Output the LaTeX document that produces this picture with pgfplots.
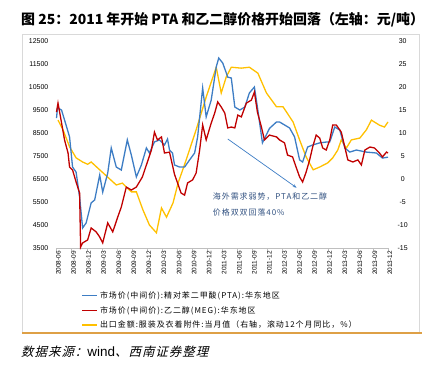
\documentclass[border=0pt]{standalone}
\usepackage{pgfplots}
\pgfplotsset{compat=1.18}
\usepackage{fontspec}
\setmainfont{Liberation Sans}
\newfontfamily\cjk{Noto Sans CJK SC}
\newfontfamily\cjkleg[LetterSpace=12]{Noto Sans CJK SC}
\newfontfamily\cjkit[FakeSlant=0.25,LetterSpace=8]{Noto Sans CJK SC}
\usetikzlibrary{arrows.meta}
\definecolor{cblue}{RGB}{61,125,196}
\definecolor{cred}{RGB}{192,0,0}
\definecolor{cyellow}{RGB}{255,192,0}
\definecolor{corange}{RGB}{222,160,70}
\definecolor{cnote}{RGB}{47,79,127}
\definecolor{caxis}{RGB}{191,191,191}
\begin{document}
\begin{tikzpicture}
\path[use as bounding box] (0bp,0bp) rectangle (432bp,365bp);
\node[font=\fontsize{14}{16}\selectfont\cjk\bfseries, anchor=west, inner sep=0pt] at (21bp,345bp) {图 25：2011 年开始 PTA 和乙二醇价格开始回落（左轴：元/吨）};
\draw[gray!30, line width=0.6bp] (22bp,32bp) rectangle (419bp,331bp);
\draw[corange, line width=1.5bp] (22bp,32bp) -- (422bp,32bp);
\node[anchor=west, inner sep=0pt] at (21bp,13bp) {{\fontsize{12.5}{14}\selectfont\cjkit 数据来源：}{\fontsize{13.5}{14}\selectfont wind}{\fontsize{12.5}{14}\selectfont\cjkit 、西南证券整理}};

\begin{axis}[
  at={(56.5bp,117bp)}, anchor=south west,
  scale only axis, width=331.5bp, height=207bp,
  xmin=0, xmax=66, ymin=-15, ymax=30,
  axis y line*=right, hide x axis,
  y axis line style={draw=none},
  ytick={-15,-10,...,30},
  major tick length=0pt,
  yticklabel style={font=\fontsize{7}{8}\selectfont, inner sep=0pt, xshift=8bp, text width=13bp, align=center},
  /pgf/number format/assume math mode=true,
  clip=false,
]
\addplot[color=cyellow, line width=1.3bp] coordinates {
(0.3,12.8) (1.3,10.7) (2.6,7.0) (3.9,4.6) (5.2,3.7) (6.2,3.2) (6.9,3.7) (8.6,2.0)
(10.2,0.4) (11.9,-1.3) (13.1,-0.9) (14.9,-2.8) (15.9,-2.8) (17.2,-6.7) (18.5,-10)
(19.9,-11.7) (20.9,-6.3) (21.9,-8.3) (23.2,-5.2) (24.2,-0.9) (25.8,4.1) (27.8,10.7)
(29.8,17.8) (31.8,24.3) (32.8,18.7) (33.8,22.2) (34.8,24.3) (36.8,24.1) (38.4,24.3)
(40.1,23) (41.8,18.7) (43.8,15.7) (45.1,15.7) (47.1,12.4) (48.4,8.5) (49.7,4.8)
(51.1,2.0) (52.4,2.6) (54.0,3.5) (55.0,4.6) (56.0,6.3) (56.7,8.5) (57.7,6.7)
(58.7,8.5) (60.4,8.9) (61.7,10.7) (62.7,12.8) (64.3,11.7) (65.3,11.3) (66,12.4)
};
\end{axis}

\begin{axis}[
  at={(56.5bp,117bp)}, anchor=south west,
  scale only axis, width=331.5bp, height=207bp,
  xmin=0, xmax=66, ymin=3500, ymax=12500,
  axis x line*=bottom, axis y line*=left,
  y axis line style={draw=none},
  x axis line style={draw=caxis},
  xtick={0,3,...,66},
  xticklabels={2008-06,2008-09,2008-12,2009-03,2009-06,2009-09,2009-12,2010-03,2010-06,2010-09,2010-12,2011-03,2011-06,2011-09,2011-12,2012-03,2012-06,2012-09,2012-12,2013-03,2013-06,2013-09,2013-12},
  xticklabel style={font=\fontsize{6.5}{7}\selectfont, rotate=90, anchor=east, inner sep=0pt, yshift=-2bp},
  tick align=outside,
  xtick pos=bottom,
  major tick length=3bp,
  x tick style={draw=caxis},
  y tick style={draw=none},
  ytick={3500,4500,...,12500},
  scaled y ticks=false,
  yticklabel style={font=\fontsize{7}{8}\selectfont, inner sep=0pt, xshift=-5bp},
  /pgf/number format/1000 sep={},
  /pgf/number format/assume math mode=true,
  legend style={draw=none, fill=none, at={(axis description cs:0.075,-0.2)}, anchor=north west,
    font=\fontsize{8}{9.5}\selectfont\cjkleg, row sep=2.5bp, inner sep=0pt},
  legend cell align=left,
  legend image code/.code={\draw[#1] (0bp,0bp) -- (15bp,0bp);},
  clip=false,
]
\addplot[color=cblue, line width=1.3bp, forget plot] coordinates {
(0,9150) (0.2,9590) (1.0,9500) (1.9,8850) (2.6,8330) (3.2,7020) (3.9,6800) (4.6,5720)
(5.2,4370) (5.9,4590) (6.9,5460) (7.6,5590) (8.6,6670) (9.2,5930) (10.2,6760) (10.9,7850)
(11.9,7020) (12.9,6890) (14.1,8200) (14.9,7540) (15.9,6590) (16.9,7110) (17.9,7850)
(18.5,7630) (19.5,8110) (20.5,8200) (21.5,7980) (22.1,8240) (22.5,7760) (23.1,7630)
(23.5,7110) (24.5,7020) (25.5,7020) (26.5,7330) (27.5,7630) (28.1,8330) (29.1,10460)
(29.8,9200) (30.8,9930) (31.8,11370) (32.3,11760) (33.1,11540) (34.1,10930) (34.8,10890)
(35.5,9630) (36.5,9500) (37.5,9630) (38.4,10240) (39.4,10500) (40.0,9630) (41.0,8070)
(42.4,8700) (43.8,8980) (44.4,8980) (45.4,8850) (46.4,8720) (47.4,8330) (48.4,7330)
(49.0,7240) (50.0,7890) (51.0,7980) (52.4,8070) (53.8,8110) (54.4,8110) (55.4,8760)
(56.4,8630) (57.4,7850) (58.4,7670) (59.7,7760) (61.7,7670) (63.7,7630) (64.9,7410) (66,7450)
};
\addplot[color=cred, line width=1.3bp, forget plot] coordinates {
(0,9410) (0.3,9800) (0.9,9070) (1.6,8200) (2.3,7630) (2.6,7020) (3.2,6890) (3.9,6370)
(4.6,5890) (4.8,3540) (5.2,3720) (6.2,3850) (6.9,4370) (7.9,4200) (8.6,3980) (9.2,3720)
(10.2,4590) (11.2,4200) (12.2,4850) (12.9,5280) (13.9,6150) (14.9,6020) (15.9,6150)
(17.1,6590) (18.1,7240) (18.9,7760) (19.5,8540) (20.1,8200) (20.9,8330) (21.5,7630)
(22.5,7670) (23.5,6700) (24.1,6330) (24.8,5890) (25.5,5800) (26.1,6330) (27.1,6460)
(27.8,6760) (28.5,7760) (29.1,8850) (29.8,8200) (30.8,8930) (31.5,9370) (32.1,9850)
(32.8,9630) (33.5,9370) (34.1,8720) (34.8,8760) (35.5,8720) (36.1,9280) (36.8,9200)
(37.8,9800) (38.8,9930) (39.4,10280) (40.0,9410) (40.8,8760) (41.4,8200) (42.4,8410)
(43.8,8330) (44.4,8200) (45.4,8070) (46.0,7540) (47.0,7460) (47.7,7020) (48.4,6590)
(49.0,6370) (49.7,6800) (50.4,7330) (51.0,7890) (51.7,8410) (52.4,8280) (53.0,7850)
(53.7,7760) (54.4,8200) (55.0,8850) (55.7,8850) (56.7,8540) (57.4,7890) (58.0,7330)
(59.0,7240) (60.0,7330) (60.7,7110) (61.4,7760) (62.4,7890) (63.3,7850) (64.3,7630)
(64.9,7460) (65.7,7670) (66,7630)
};
\addlegendimage{color=cblue, line width=1.5bp}
\addlegendentry{市场价(中间价):精对苯二甲酸(PTA):华东地区}
\addlegendimage{color=cred, line width=1.5bp}
\addlegendentry{市场价(中间价):乙二醇(MEG):华东地区}
\addlegendimage{color=cyellow, line width=1.5bp}
\addlegendentry{出口金额:服装及衣着附件:当月值（右轴，滚动12个月同比，\%）}
\draw[-{Stealth[length=4bp,width=3bp]}, color=cblue, line width=0.7bp] (axis cs:34.1,8240) -- (axis cs:47.8,6120);
\node[anchor=west, inner sep=0pt, text=cnote, font=\fontsize{8}{9.5}\selectfont\cjkleg] at (axis cs:31.1,5720) {海外需求弱势，PTA和乙二醇};
\node[anchor=west, inner sep=0pt, text=cnote, font=\fontsize{8}{9.5}\selectfont\cjkleg] at (axis cs:31.1,5060) {价格双双回落40\%};
\end{axis}
\end{tikzpicture}
\end{document}
